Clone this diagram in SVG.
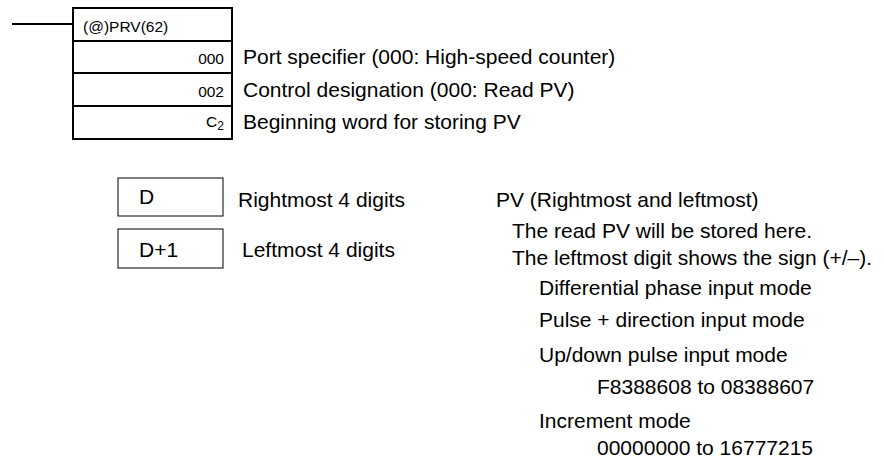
<svg xmlns="http://www.w3.org/2000/svg" width="884" height="458" viewBox="0 0 884 458">
<style>
text{font-family:"Liberation Sans",Arial,sans-serif;fill:#000}
.t{font-size:21px}
.s{font-size:15.5px}
.b{fill:#fff;stroke:#000;stroke-width:2}
.w{fill:#fff;stroke:#000;stroke-width:1}
.l{stroke:#000;stroke-width:2;fill:none}
</style>
<rect width="884" height="458" fill="#fff"/>
<g id="connectors">
<line class="l" x1="12" y1="24" x2="73" y2="24"/>
</g>
<g id="instr">
<rect class="b" x="73" y="8" width="159" height="131"/>
<line class="l" x1="73" y1="41" x2="232" y2="41"/>
<line class="l" x1="73" y1="73" x2="232" y2="73"/>
<line class="l" x1="73" y1="106" x2="232" y2="106"/>
<text class="s" x="83" y="32">(@)PRV(62)</text>
<text class="s" x="224" y="64" text-anchor="end">000</text>
<text class="s" x="224" y="97" text-anchor="end">002</text>
<text class="s" x="224" y="127" text-anchor="end">C<tspan font-size="12" dy="3">2</tspan></text>
<text class="t" x="243" y="64">Port specifier (000: High-speed counter)</text>
<text class="t" x="243" y="97">Control designation (000: Read PV)</text>
<text class="t" x="243" y="129">Beginning word for storing PV</text>
</g>
<g id="wordD">
<rect class="w" x="118" y="178" width="105" height="38"/>
<text class="t" x="139" y="204">D</text>
<text class="t" x="238" y="207">Rightmost 4 digits</text>
</g>
<g id="wordD1">
<rect class="w" x="118" y="229" width="105" height="39"/>
<text class="t" x="139" y="257">D+1</text>
<text class="t" x="242" y="257">Leftmost 4 digits</text>
</g>
<g id="desc">
<text class="t" x="496" y="207">PV (Rightmost and leftmost)</text>
<text class="t" x="512" y="238">The read PV will be stored here.</text>
<text class="t" x="512" y="265">The leftmost digit shows the sign (+/–).</text>
<text class="t" x="539" y="295">Differential phase input mode</text>
<text class="t" x="539" y="327">Pulse + direction input mode</text>
<text class="t" x="539" y="362">Up/down pulse input mode</text>
<text class="t" x="597" y="394">F8388608 to 08388607</text>
<text class="t" x="539" y="428">Increment mode</text>
<text class="t" x="597" y="455">00000000 to 16777215</text>
</g>
</svg>
